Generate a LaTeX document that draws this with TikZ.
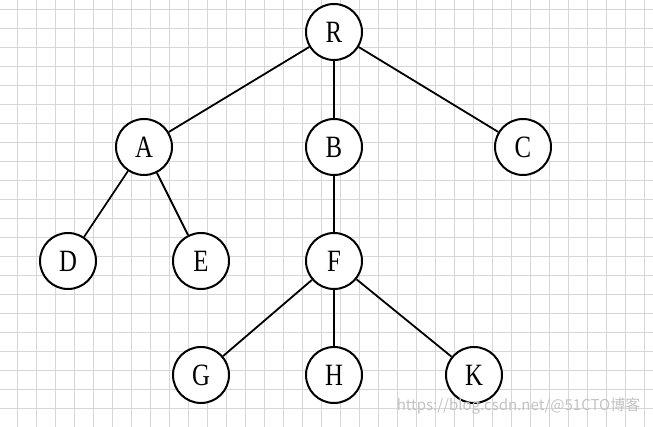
\documentclass[tikz,border=0pt]{standalone}
\usepackage{fontspec}
\setmainfont{Liberation Serif}
\newfontfamily\markfont{Noto Sans CJK SC}
\definecolor{gridgray}{RGB}{214,214,214}
\definecolor{markgray}{RGB}{195,195,195}
\begin{document}
\begin{tikzpicture}[x=1pt, y=-1pt, style=thick,
  vertex/.style={circle, draw, line width=2pt, fill=white, minimum size=56pt, inner sep=0pt,
    font=\fontsize{31}{31}\selectfont},
  edge/.style={line width=1.8pt},
  gridline/.style={gridgray, line width=1pt}]
\useasboundingbox (0,0) rectangle (653,427);
\fill[white] (0,0) rectangle (653,427);
% grid
\foreach \gx in {17.3,36.3,...,653} \draw[gridline] (\gx,0) -- (\gx,427);
\foreach \gy in {9.3,28.3,...,427} \draw[gridline] (0,\gy) -- (653,\gy);
%
\node[vertex] (R) at (334,32)  {\scalebox{0.8}[1]{R}};
%
\node[vertex] (A) at (144,147) {\scalebox{0.8}[1]{A}};
\node[vertex] (B) at (334,147) {\scalebox{0.8}[1]{B}};
\node[vertex] (C) at (523,147) {\scalebox{0.8}[1]{C}};
%
\node[vertex] (D) at (68,261)  {\scalebox{0.8}[1]{D}};
\node[vertex] (E) at (201,261) {\scalebox{0.8}[1]{E}};
\node[vertex] (F) at (334,261) {\scalebox{0.8}[1]{F}};
%
\node[vertex] (G) at (201,375) {\scalebox{0.8}[1]{G}};
\node[vertex] (H) at (334,375) {\scalebox{0.8}[1]{H}};
\node[vertex] (K) at (474,375) {\scalebox{0.8}[1]{K}};
%
\draw[edge] (R) -- (A);
\draw[edge] (R) -- (B);
\draw[edge] (R) -- (C);
%
\draw[edge] (A) -- (D);
\draw[edge] (A) -- (E);
\draw[edge] (B) -- (F);
%
\draw[edge] (F) -- (G);
\draw[edge] (F) -- (H);
\draw[edge] (F) -- (K);
%
\node[markgray, anchor=east, font=\markfont\fontsize{15}{15}\selectfont] (mark) at (644,406)
  {https://blog.csdn.net/@51CTO博客};
\end{tikzpicture}
\end{document}
